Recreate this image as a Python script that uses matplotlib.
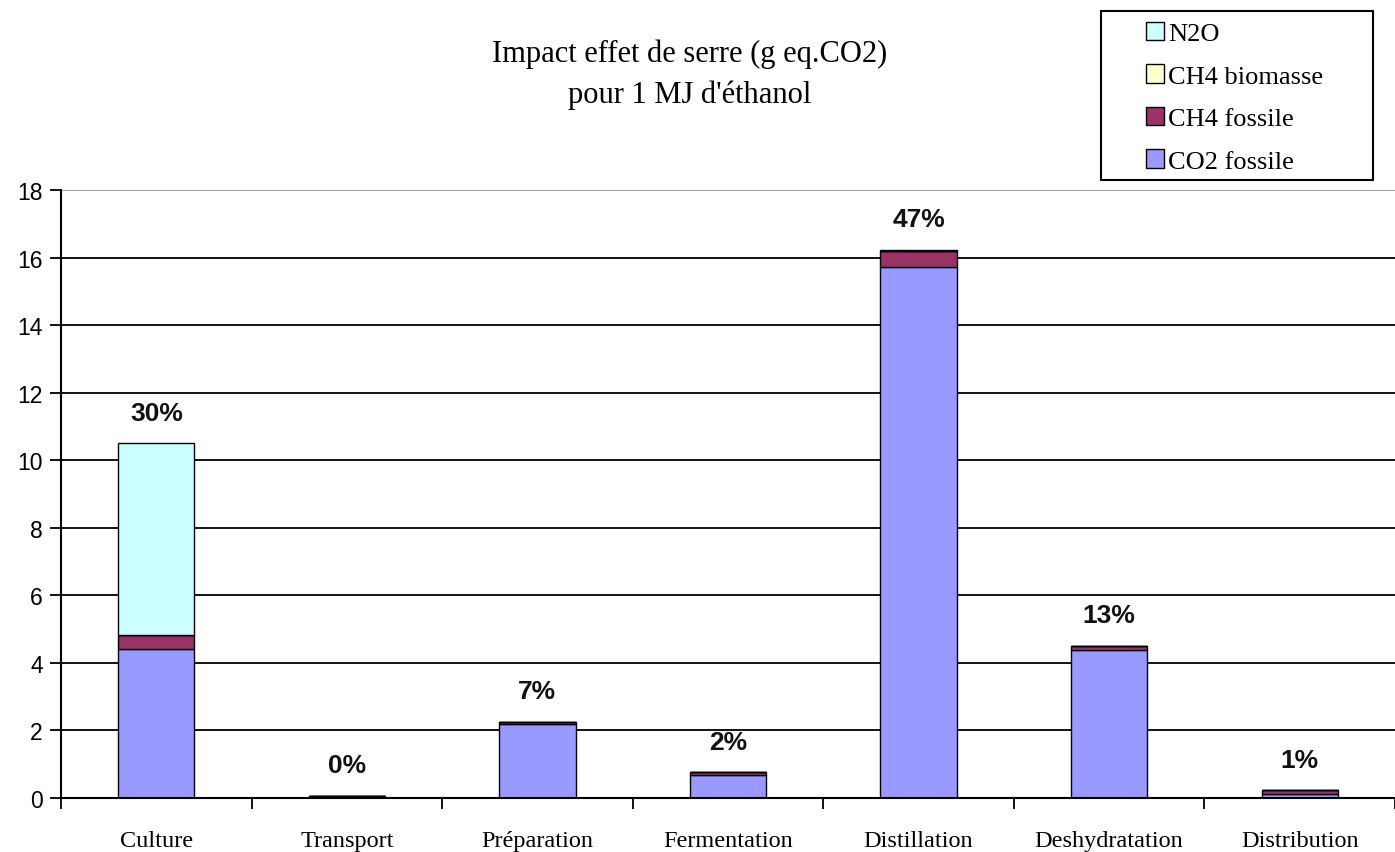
import numpy as np
import matplotlib
matplotlib.use("Agg")
import matplotlib.pyplot as plt
from matplotlib.patches import Patch, Rectangle

# Greenhouse impact per stage (g eq. CO2 per MJ of ethanol)
stages = ["Culture", "Transport", "Préparation", "Fermentation",
          "Distillation", "Deshydratation", "Distribution"]
co2_fossile = [4.42, 0.05, 2.20, 0.69, 15.72, 4.38, 0.13]
ch4_fossile = [0.40, 0.02, 0.06, 0.07, 0.46, 0.13, 0.10]
ch4_biomasse = [0.00, 0.00, 0.00, 0.00, 0.00, 0.00, 0.00]
n2o = [5.68, 0.00, 0.00, 0.00, 0.05, 0.00, 0.00]
y_ticks = [0, 2, 4, 6, 8, 10, 12, 14, 16, 18]

series = [("CO2 fossile", co2_fossile, "#9999FF"),
          ("CH4 fossile", ch4_fossile, "#993366"),
          ("CH4 biomasse", ch4_biomasse, "#FFFFCC"),
          ("N2O", n2o, "#CCFFFF")]

serif = ["Liberation Serif", "DejaVu Serif"]
sans = ["Liberation Sans", "DejaVu Sans"]

W, H = 1395, 853
fig = plt.figure(figsize=(W / 100, H / 100), dpi=100)
ax = fig.add_axes([61 / W, 1 - 799 / H, 1 - 61 / W, (799 - 191) / H])

x = np.arange(len(stages))
bottom = np.zeros(len(stages))
for name, vals, color in series:
    vals = np.array(vals)
    ax.bar(x, vals, width=0.40, bottom=bottom, color=color,
           edgecolor="black", linewidth=1.0, zorder=3)
    bottom += vals

totals = bottom
shares = totals / totals.sum() * 100
for xi, tot, sh in zip(x, totals, shares):
    ax.text(xi, tot + 0.55, f"{sh:.0f}%", ha="center", va="bottom",
            fontsize=19, fontweight="bold", family=sans, color="#111111")

ax.set_xlim(-0.5, -0.5 + (W - 61) / 193.3)
ax.set_ylim(0, 18)

# horizontal grid lines
for t in y_ticks[1:]:
    ax.axhline(t, color="#999999" if t == 18 else "black",
               linewidth=1.3, zorder=1)

ax.set_yticks(y_ticks)
ax.set_yticklabels([str(t) for t in y_ticks], family=sans, fontsize=16.5)
ax.tick_params(axis="y", direction="out", length=8, width=1.3, pad=5)

# category boundaries as x ticks, names centred between them
ax.set_xticks(np.arange(-0.5, 7.0, 1.0))
ax.set_xticklabels([])
ax.set_xticks(x, minor=True)
ax.set_xticklabels(stages, minor=True, family=serif, fontsize=17.5)
ax.tick_params(axis="x", which="major", direction="out", length=8, width=1.3)
ax.tick_params(axis="x", which="minor", length=0, pad=23)

for side in ("top", "right"):
    ax.spines[side].set_visible(False)
for side in ("left", "bottom"):
    ax.spines[side].set_linewidth(1.5)
    ax.spines[side].set_zorder(4)

fig.text(690 / W, 1 - 54 / H, "Impact effet de serre (g eq.CO2)",
         ha="center", va="center", family=serif, fontsize=22)
fig.text(690 / W, 1 - 95 / H, "pour 1 MJ d'éthanol",
         ha="center", va="center", family=serif, fontsize=22)

# legend box
fig.patches.append(Rectangle((1101 / W, 1 - 181 / H), 272 / W, 169 / H,
                             transform=fig.transFigure, facecolor="white",
                             edgecolor="black", linewidth=1.5))
handles = [Patch(facecolor=c, edgecolor="black", label=n)
           for n, _, c in reversed(series)]
leg = fig.legend(handles=handles, loc="upper left",
                 bbox_to_anchor=(1146 / W, 1 - 23 / H),
                 prop={"family": serif, "size": 19},
                 frameon=False, handlelength=0.7, handleheight=0.7,
                 handletextpad=0.15, labelspacing=0.72,
                 borderpad=0, borderaxespad=0)

fig.savefig("out.png", dpi=100, facecolor="white")
